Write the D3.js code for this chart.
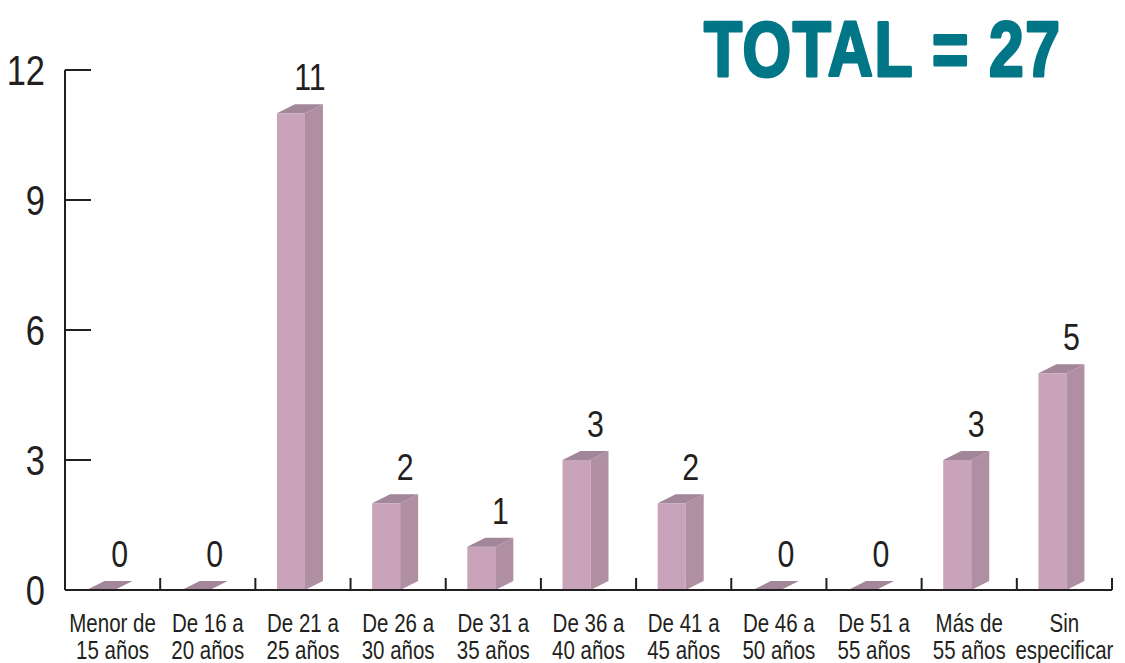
<!DOCTYPE html>
<html lang="es">
<meta charset="UTF-8">
<style>
  body { margin: 0; background: #fff; }
  svg text { font-family: "Liberation Sans", Arial, sans-serif; fill: #231f20; }
</style>
<script src="https://d3js.org/d3.v7.min.js"></script>
<body>
<svg id="chart" width="1125" height="663"></svg>
<script>
// categories (two lines each) and counts
const categories = [
  ["Menor de", "15 años"], ["De 16 a", "20 años"], ["De 21 a", "25 años"],
  ["De 26 a", "30 años"], ["De 31 a", "35 años"], ["De 36 a", "40 años"],
  ["De 41 a", "45 años"], ["De 46 a", "50 años"], ["De 51 a", "55 años"],
  ["Más de", "55 años"], ["Sin", "especificar"]
];
const values = [0, 0, 11, 2, 1, 3, 2, 0, 0, 3, 5];
const yTicks = [0, 3, 6, 9, 12];
const totalLabel = "TOTAL = 27";

const svg = d3.select("#chart");
const mLeft = 65, mRight = 1112, mTop = 70, mBottom = 590;
const narrow = 0.82; // squeeze text to look like a condensed face

const x = d3.scaleBand().domain(d3.range(categories.length)).range([mLeft, mRight]).padding(0);
const y = d3.scaleLinear().domain([0, 12]).range([mBottom, mTop]);

const fw = 28, dx = 18, dy = 9;   // front width and 3d depth
const front = "#c9a3b9", side = "#b08fa3", topc = "#a2869a";

function label(px, py, txt, size, anchor) {
  return svg.append("text")
    .attr("transform", `translate(${px},${py}) scale(${narrow},1)`)
    .attr("text-anchor", anchor).attr("font-size", size).text(txt);
}

// y axis
svg.append("line").attr("x1", mLeft).attr("x2", mLeft).attr("y1", mTop).attr("y2", mBottom)
  .attr("stroke", "#231f20").attr("stroke-width", 2);
svg.selectAll(".ytick").data(yTicks).enter().append("line")
  .attr("x1", mLeft).attr("x2", mLeft + 26)
  .attr("y1", d => y(d)).attr("y2", d => y(d))
  .attr("stroke", "#231f20").attr("stroke-width", 2);
yTicks.forEach(d => label(45, y(d) + 15, d, 42, "end"));

// bars
const g = svg.selectAll(".bar").data(values).enter().append("g");
g.each(function(v, i) {
  const el = d3.select(this);
  const x0 = x(i) + x.bandwidth() / 2 - 26, x1 = x0 + fw;
  const yt = y(v), yb = y(0);
  if (v > 0) {
    el.append("rect").attr("x", x0).attr("y", yt).attr("width", fw).attr("height", yb - yt).attr("fill", front);
    el.append("path").attr("d", `M${x1},${yt}L${x1 + dx},${yt - dy}L${x1 + dx},${yb - dy}L${x1},${yb}Z`).attr("fill", side);
  }
  el.append("path").attr("d", `M${x0},${yt}L${x0 + dx},${yt - dy}L${x1 + dx},${yt - dy}L${x1},${yt}Z`).attr("fill", topc);
  label(x1 + 5, yt - 23, v, 37, "middle");
});

// x axis
svg.append("line").attr("x1", mLeft).attr("x2", mRight).attr("y1", mBottom).attr("y2", mBottom)
  .attr("stroke", "#231f20").attr("stroke-width", 2);
svg.selectAll(".xtick").data(d3.range(1, categories.length + 1)).enter().append("line")
  .attr("x1", d => x(d - 1) + x.bandwidth()).attr("x2", d => x(d - 1) + x.bandwidth())
  .attr("y1", mBottom).attr("y2", mBottom - 12)
  .attr("stroke", "#231f20").attr("stroke-width", 2);

categories.forEach((d, i) => {
  const cx = x(i) + x.bandwidth() / 2;
  label(cx, 632, d[0], 25, "middle");
  label(cx, 659, d[1], 25, "middle");
});

// total (stroked to get the heavy condensed look)
svg.append("text")
  .attr("transform", "translate(704,76) scale(0.8,1)")
  .attr("font-size", 78).attr("font-weight", "bold")
  .attr("letter-spacing", 2)
  .style("fill", "#007687").style("stroke", "#007687").style("stroke-width", 3)
  .style("stroke-linejoin", "round")
  .text(totalLabel);
</script>
</body>
</html>
